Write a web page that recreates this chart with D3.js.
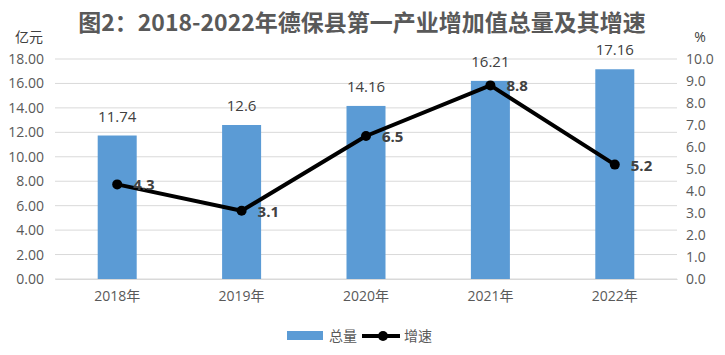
<!DOCTYPE html>
<html><head><meta charset="utf-8">
<script src="https://cdn.jsdelivr.net/npm/d3@7"></script>
<style>
body{margin:0;background:#fff;}
svg{display:block;font-family:"Open Sans","Noto Sans CJK SC",sans-serif;}
</style></head>
<body><svg id="c" width="725" height="355"></svg>
<script>
const categories = ["2018年","2019年","2020年","2021年","2022年"];
const totals = [11.74, 12.6, 14.16, 16.21, 17.16];
const growth = [4.3, 3.1, 6.5, 8.8, 5.2];
const leftTicks = [0,2,4,6,8,10,12,14,16,18];
const rightTicks = [0,1,2,3,4,5,6,7,8,9,10];
const title = "图2：2018-2022年德保县第一产业增加值总量及其增速";

const svg = d3.select("#c");
const L = 55, R = 677, T = 59, B = 279;
const x = d3.scaleBand().domain(categories).range([L, R]);
const yL = d3.scaleLinear().domain([0, 18]).range([B, T]);
const yR = d3.scaleLinear().domain([0, 10]).range([B, T]);
const axisColor = "#595959";
const cjk = "'Noto Sans CJK SC',sans-serif";

svg.append("text").attr("x", 362).attr("y", 31).attr("text-anchor","middle")
  .attr("font-family", cjk).attr("font-weight","bold").attr("font-size", 23)
  .attr("fill","#595959").text(title);

svg.append("text").attr("x", 29).attr("y", 42).attr("text-anchor","middle")
  .attr("font-family", cjk).attr("font-size", 14).attr("fill","#404040").text("亿元");
svg.append("text").attr("x", 700).attr("y", 42).attr("text-anchor","middle")
  .attr("font-size", 14).attr("fill","#404040").text("%");

// grid
svg.append("g").selectAll("line").data(leftTicks).join("line")
  .attr("x1", L).attr("x2", R).attr("y1", d=>yL(d)).attr("y2", d=>yL(d))
  .attr("stroke", "#d9d9d9").attr("stroke-width", 1);

// left axis
const gl = svg.append("g").attr("transform", `translate(${L},0)`)
  .call(d3.axisLeft(yL).tickValues(leftTicks).tickFormat(d3.format(".2f")).tickSize(0).tickPadding(11));
gl.select(".domain").remove();
gl.selectAll("text").attr("font-size", 14).attr("fill", axisColor).attr("font-family","'Open Sans',sans-serif");

// right axis
const gr = svg.append("g").attr("transform", `translate(${R},0)`)
  .call(d3.axisRight(yR).tickValues(rightTicks).tickFormat(d3.format(".1f")).tickSize(0).tickPadding(9));
gr.select(".domain").remove();
gr.selectAll("text").attr("font-size", 14).attr("fill", axisColor).attr("font-family","'Open Sans',sans-serif");

// bottom axis
const gb = svg.append("g").attr("transform", `translate(0,${B})`)
  .call(d3.axisBottom(x).tickSize(0).tickPadding(12));
gb.select(".domain").attr("stroke","#d9d9d9");
gb.selectAll("text").attr("font-size", 14).attr("fill", axisColor).attr("font-family", "'Open Sans','Noto Sans CJK SC',sans-serif");

// bars
const bw = 39;
svg.append("g").selectAll("rect").data(totals).join("rect")
  .attr("x", (d,i)=>x(categories[i]) + x.bandwidth()/2 - bw/2)
  .attr("width", bw)
  .attr("y", d=>yL(d)).attr("height", d=>yL(0)-yL(d))
  .attr("fill", "#5b9bd5");

svg.append("g").selectAll("text").data(totals).join("text")
  .attr("x", (d,i)=>x(categories[i]) + x.bandwidth()/2)
  .attr("y", d=>yL(d) - 14)
  .attr("text-anchor","middle").attr("font-size", 15).attr("fill","#404040")
  .text(d=>d);

// line
const cx = (i)=>x(categories[i]) + x.bandwidth()/2;
svg.append("path").datum(growth)
  .attr("d", d3.line().x((d,i)=>cx(i)).y(d=>yR(d)))
  .attr("fill","none").attr("stroke","#000").attr("stroke-width",4).attr("stroke-linejoin","round");
svg.append("g").selectAll("circle").data(growth).join("circle")
  .attr("cx",(d,i)=>cx(i)).attr("cy", d=>yR(d)).attr("r",5).attr("fill","#000");
svg.append("g").selectAll("text").data(growth).join("text")
  .attr("x",(d,i)=>cx(i)+16).attr("y", d=>yR(d)+6)
  .attr("font-size", 15).attr("font-weight","bold").attr("fill","#404040")
  .text(d=>d3.format(".1f")(d));

// legend
const lg = svg.append("g");
lg.append("rect").attr("x",287).attr("y",331).attr("width",36).attr("height",9).attr("fill","#5b9bd5");
lg.append("text").attr("x",329).attr("y",341).attr("font-family",cjk).attr("font-size",14).attr("fill",axisColor).text("总量");
lg.append("line").attr("x1",362).attr("x2",400).attr("y1",336).attr("y2",336).attr("stroke","#000").attr("stroke-width",4);
lg.append("circle").attr("cx",383).attr("cy",336).attr("r",5).attr("fill","#000");
lg.append("text").attr("x",404).attr("y",341).attr("font-family",cjk).attr("font-size",14).attr("fill",axisColor).text("增速");
</script></body></html>
